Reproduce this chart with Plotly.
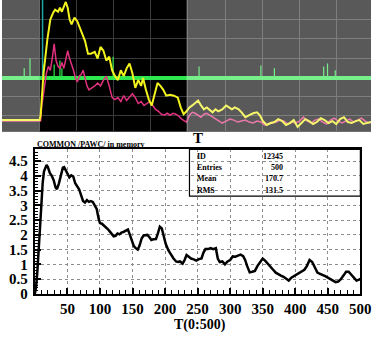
import plotly.graph_objects as go

# --- histogramme PAW (COMMON /PAWC/) ---
hist_t = [0, 2, 4, 6, 8, 10, 12, 14, 16, 18, 20, 23, 26, 29, 32, 34, 37, 40, 43, 45,
          48, 50, 53, 56, 59, 62, 65, 68, 71, 74, 77, 80, 83, 86, 89, 92, 95, 98, 100,
          103, 106, 109, 112, 115, 118, 121, 124, 127, 130, 133, 136, 140, 143, 146,
          149, 152, 155, 158, 161, 164, 167, 170, 173, 176, 179, 182, 186, 189, 192,
          195, 198, 201, 205, 209, 213, 217, 220, 223, 227, 230, 233, 237, 240, 244,
          248, 252, 256, 259, 262, 266, 270, 274, 278, 281, 284, 288, 292, 296, 300,
          304, 308, 312, 316, 320, 323, 326, 330, 334, 338, 342, 346, 350, 354, 358,
          362, 366, 370, 374, 378, 382, 386, 390, 394, 398, 402, 406, 410, 414, 418,
          422, 426, 430, 434, 438, 442, 446, 450, 454, 458, 462, 466, 470, 474, 478,
          482, 486, 490, 494, 498, 500]
hist_v = [0.0, 0.25, 0.8, 1.5, 2.4, 3.2, 3.75, 4.15, 4.3, 4.37, 4.3, 4.1, 4.0, 3.85,
          3.6, 3.55, 3.75, 4.0, 4.28, 4.3, 4.15, 4.05, 3.95, 4.02, 3.98, 3.75, 3.65,
          3.55, 3.35, 3.15, 3.1, 3.18, 3.12, 3.15, 3.12, 3.0, 2.88, 2.55, 2.4, 2.38,
          2.33, 2.25, 2.2, 2.12, 2.02, 1.95, 1.97, 2.05, 2.02, 2.08, 2.1, 2.15, 2.18,
          2.0, 1.8, 1.62, 1.55, 1.5, 1.65, 1.88, 1.98, 1.98, 2.0, 1.92, 1.83, 1.85,
          1.86, 2.05, 2.28, 2.22, 1.95, 1.7, 1.48, 1.32, 1.2, 1.1, 1.08, 1.1, 1.03,
          1.15, 1.32, 1.25, 1.2, 1.17, 1.13, 1.18, 1.2, 1.4, 1.52, 1.52, 1.55, 1.52,
          1.55, 1.2, 1.08, 1.1, 1.0, 1.1, 1.15, 1.27, 1.26, 1.3, 1.33, 1.28, 1.15,
          0.95, 0.73, 0.75, 0.78, 0.95, 1.08, 1.2, 1.12, 1.03, 0.92, 0.82, 0.72, 0.66,
          0.62, 0.58, 0.52, 0.45, 0.55, 0.6, 0.66, 0.72, 0.78, 0.82, 0.95, 1.15, 1.08,
          0.9, 0.72, 0.68, 0.65, 0.6, 0.55, 0.5, 0.45, 0.4, 0.42, 0.5, 0.62, 0.75,
          0.75, 0.65, 0.52, 0.45, 0.48, 0.52]

stat_noms = ["ID", "Entries", "Mean", "RMS"]
stat_vals = ["12345", "500", "170.7", "131.5"]

# --- trace oscilloscope (ecran au-dessus) ---
osc_t_jaune = [0, 39, 40, 43, 47, 50, 53, 55, 58, 60, 62, 64, 66, 68, 70, 72, 75, 78,
               82, 86, 89, 92, 96, 99, 102, 105, 108, 111, 114, 117, 120, 123, 126,
               129, 132, 135, 138, 141, 144, 146, 149, 152, 155, 158, 161, 164, 167,
               170, 174, 178, 182, 185, 188, 191, 194, 197, 200, 203, 206, 209, 212,
               215, 218, 221, 224, 228, 232, 235, 238, 241, 245, 248, 252, 256, 260,
               264, 267, 270, 274, 278, 282, 286, 290, 294, 298, 302, 306, 310, 314,
               318, 322, 326, 330, 334, 338, 342, 346, 350, 354, 358, 362, 366, 370,
               374, 378, 382]
osc_v_jaune = [123, 123, 118, 75, 40, 20, 13, 10, 12, 8, 12, 6, 2, 8, 20, 25, 18, 22,
               32, 42, 55, 55, 53, 60, 48, 52, 62, 58, 72, 78, 82, 72, 78, 70, 65, 75,
               90, 82, 88, 80, 92, 102, 108, 95, 85, 88, 92, 98, 97, 98, 100, 110, 117,
               114, 110, 108, 105, 103, 108, 112, 110, 113, 115, 112, 114, 112, 108,
               110, 112, 110, 112, 115, 120, 118, 116, 115, 118, 124, 128, 126, 125,
               122, 124, 128, 126, 123, 130, 126, 122, 124, 127, 125, 121, 123, 126,
               124, 127, 122, 120, 125, 126, 124, 123, 127, 126, 125]

osc_t_rose = [0, 40, 41, 44, 46, 48, 50, 52, 54, 56, 58, 60, 62, 64, 66, 68, 70, 72,
              74, 76, 78, 80, 82, 84, 86, 88, 90, 93, 96, 99, 102, 105, 108, 111, 114,
              117, 120, 123, 126, 129, 132, 135, 138, 141, 144, 147, 150, 153, 156,
              159, 162, 165, 168, 171, 174, 177, 180, 183, 186, 189, 191, 194, 197,
              200, 203, 206, 209, 212, 215, 218, 221, 224, 228, 232, 236, 240, 244,
              248, 252, 256, 260, 264, 268, 272, 276, 280, 284, 288, 292, 296, 300,
              304, 308, 312, 316, 320, 324, 328, 332, 336, 340, 344, 348, 352, 356,
              360, 364, 368, 372, 376, 380, 382]
osc_v_rose = [124, 124, 110, 90, 75, 68, 72, 60, 45, 62, 68, 70, 64, 70, 62, 52, 60,
              65, 72, 80, 84, 78, 76, 72, 80, 88, 92, 90, 88, 85, 88, 82, 78, 88, 100,
              102, 100, 104, 98, 103, 100, 96, 100, 106, 104, 108, 106, 104, 108, 112,
              114, 117, 118, 116, 118, 116, 117, 119, 122, 124, 125, 118, 115, 116,
              118, 120, 117, 116, 118, 120, 122, 124, 126, 124, 122, 123, 125, 124,
              123, 125, 126, 124, 125, 128, 127, 126, 125, 123, 124, 127, 125, 126,
              124, 120, 124, 126, 123, 122, 125, 127, 123, 121, 124, 126, 124, 122,
              125, 123, 121, 124, 126, 125]

# ligne verte (niveau) et ses petits pics
osc_t_vert = [0, 382]
osc_v_vert = [80, 80]
pics_t = [23, 29, 43, 54, 60, 62, 115, 204, 268, 282, 333, 337, 345]
pics_v = [70, 60, 66, 66, 62, 70, 58, 68, 67, 70, 68, 65, 72]

osc_t_cyan = [42, 42]
osc_v_cyan = [80, 0]

serif = "Liberation Serif"

fig = go.Figure()

# ecran oscilloscope
fig.add_trace(go.Scatter(x=osc_t_vert, y=osc_v_vert, mode="lines",
                         line=dict(color="#2ee64e", width=4),
                         xaxis="x2", yaxis="y2", hoverinfo="skip"))
sx, sy = [], []
for t, v in zip(pics_t, pics_v):
    sx += [t, t, None]
    sy += [80, v, None]
fig.add_trace(go.Scatter(x=sx, y=sy, mode="lines",
                         line=dict(color="#2ee64e", width=1.2),
                         xaxis="x2", yaxis="y2", hoverinfo="skip"))
fig.add_trace(go.Scatter(x=osc_t_cyan, y=osc_v_cyan, mode="lines",
                         line=dict(color="#1fa7a7", width=1.5),
                         xaxis="x2", yaxis="y2", hoverinfo="skip"))
fig.add_trace(go.Scatter(x=osc_t_rose, y=osc_v_rose, mode="lines",
                         line=dict(color="#e0307e", width=1.5),
                         xaxis="x2", yaxis="y2", hoverinfo="skip"))
fig.add_trace(go.Scatter(x=osc_t_jaune, y=osc_v_jaune, mode="lines",
                         line=dict(color="#f2f21c", width=2),
                         xaxis="x2", yaxis="y2", hoverinfo="skip"))

# histogramme
fig.add_trace(go.Scatter(x=hist_t, y=hist_v, mode="lines",
                         line=dict(color="black", width=2.5),
                         xaxis="x", yaxis="y"))

# fond noir + zones grisees de l'ecran
fig.add_shape(type="rect", xref="x2 domain", yref="y2 domain", x0=0, x1=1, y0=0, y1=1,
              fillcolor="black", line_width=0, layer="below")
fig.add_shape(type="rect", xref="x2", yref="y2 domain", x0=0, x1=39, y0=0, y1=1,
              fillcolor="rgba(255,255,255,0.35)", line_width=0, layer="above")
fig.add_shape(type="rect", xref="x2", yref="y2 domain", x0=191, x1=382, y0=0, y1=1,
              fillcolor="rgba(255,255,255,0.35)", line_width=0, layer="above")

# cadre des statistiques
fig.add_shape(type="rect", xref="x domain", yref="y domain", x0=0.475, x1=1,
              y0=0.676, y1=1, line=dict(color="black", width=1.2))
rows_y = [0.953, 0.872, 0.797, 0.716]
for nom, val, yy in zip(stat_noms, stat_vals, rows_y):
    fig.add_annotation(x=0.493, y=yy, xref="x domain", yref="y domain", text=nom,
                       showarrow=False, xanchor="left", yanchor="middle",
                       font=dict(family=serif, size=8, color="black", weight="bold"))
    fig.add_annotation(x=0.769, y=yy, xref="x domain", yref="y domain", text=val,
                       showarrow=False, xanchor="right", yanchor="middle",
                       font=dict(family=serif, size=8, color="black", weight="bold"))

fig.add_annotation(x=34 / 382, y=1 - 148 / 339, xref="paper", yref="paper",
                   text="COMMON /PAWC/ in memory", showarrow=False,
                   xanchor="left", yanchor="middle",
                   font=dict(family=serif, size=8, color="black", weight="bold"))
fig.add_annotation(x=203 / 382, y=1 - 141 / 339, xref="paper", yref="paper",
                   text="T", showarrow=False, xanchor="center", yanchor="middle",
                   font=dict(family=serif, size=15, color="black", weight="bold"))
fig.add_annotation(x=205 / 382, y=1 - 333 / 339, xref="paper", yref="paper",
                   text="T(0:500)", showarrow=False, xanchor="center", yanchor="middle",
                   font=dict(family=serif, size=14, color="black", weight="bold"))

tick_font = dict(family=serif, size=15, color="black", weight="bold")

fig.update_layout(
    width=382, height=339,
    margin=dict(l=0, r=0, t=0, b=0),
    paper_bgcolor="white", plot_bgcolor="white",
    showlegend=False,
    xaxis=dict(domain=[34 / 382, 371 / 382], range=[0, 500], anchor="y",
               tickmode="linear", tick0=0, dtick=50, labelalias={"0": " "},
               ticks="inside", ticklen=6, tickwidth=1.5, tickcolor="black",
               minor=dict(ticks="inside", dtick=10, ticklen=4, tickcolor="black",
                          tickwidth=1, showgrid=False),
               showgrid=True, gridcolor="#8c8c8c", griddash="dot", gridwidth=1,
               showline=True, linecolor="black", linewidth=2, mirror=True,
               zeroline=False, tickfont=tick_font, ticklabelstandoff=0,
               ticklabeloverflow="allow"),
    yaxis=dict(domain=[1 - 301 / 339, 1 - 153 / 339], range=[0, 4.9], anchor="x",
               tickmode="linear", tick0=0, dtick=0.5,
               ticks="inside", ticklen=6, tickwidth=1.5, tickcolor="black",
               minor=dict(ticks="inside", dtick=0.1, ticklen=3, tickcolor="black",
                          tickwidth=1, showgrid=False),
               showgrid=True, gridcolor="#8c8c8c", griddash="dot", gridwidth=1,
               showline=True, linecolor="black", linewidth=2, mirror=True,
               zeroline=False, tickfont=tick_font, ticklabelstandoff=2,
               ticklabeloverflow="allow"),
    xaxis2=dict(domain=[0, 1], range=[0, 382], anchor="y2",
                tickmode="linear", tick0=0, dtick=38.5, showticklabels=False,
                showgrid=True, gridcolor="#3a3a3a", gridwidth=1,
                zeroline=False, showline=False, ticks=""),
    yaxis2=dict(domain=[1 - 135 / 339, 1], range=[135, 0], anchor="x2",
                tickmode="linear", tick0=20, dtick=19.7, showticklabels=False,
                showgrid=True, gridcolor="#3a3a3a", gridwidth=1,
                zeroline=False, showline=False, ticks=""),
)

fig.write_html("out.html", config={"displayModeBar": False},
               post_script="document.body.style.margin='0';")
